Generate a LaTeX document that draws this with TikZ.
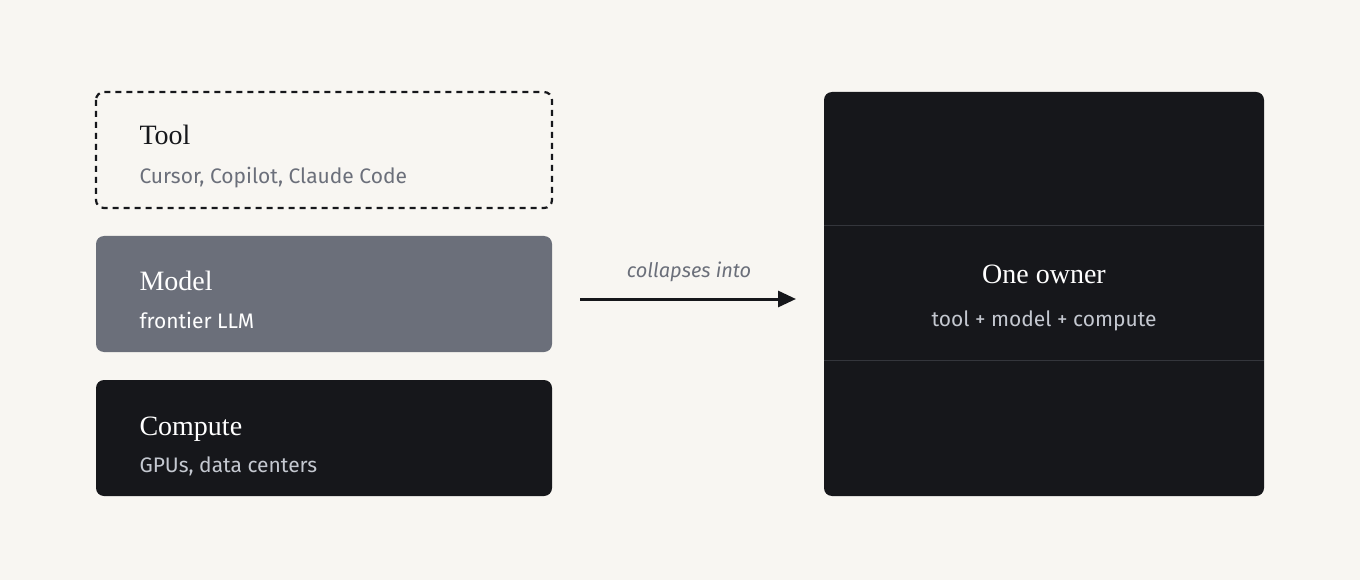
\documentclass[tikz,border=0pt]{standalone}
\usepackage{fontspec}
\setmainfont{Liberation Serif}
\newfontfamily\subf{Fira Sans}
\usetikzlibrary{arrows.meta}
\definecolor{bg}{HTML}{F8F6F2}
\definecolor{slate}{HTML}{6B6F7A}
\definecolor{ink}{HTML}{16171B}
\definecolor{sep}{HTML}{34363C}
\definecolor{lite}{HTML}{C4C8D0}
\begin{document}
\begin{tikzpicture}[x=1pt,y=-1pt,
  box/.style={rounded corners=8pt},
  ttl/.style={anchor=base west,font=\fontsize{28}{30}\selectfont},
  sub/.style={anchor=base west,font=\subf\fontsize{21}{24}\selectfont}]
\fill[bg] (0,0) rectangle (1360,580);
\useasboundingbox (0,0) rectangle (1360,580);
\draw[box,line width=2.2pt,dash pattern=on 6pt off 5pt,ink,fill=bg] (96,92) rectangle (552,208);
\fill[box,slate] (96,236) rectangle (552,352);
\fill[box,ink] (96,380) rectangle (552,496);
\fill[box,ink] (824,92) rectangle (1264,496);
\draw[sep,line width=1pt] (824,226) -- (1264,226);
\draw[sep,line width=1pt] (824,360) -- (1264,360);
\node[ttl,text=ink] (t1) at (136,145) {Tool};
\node[sub,text=slate] (s1) at (136,184) {Cursor, Copilot, Claude Code};
\node[ttl,text=white] (t2) at (136,290) {Model};
\node[sub,text=white] (s2) at (136,328) {frontier LLM};
\node[ttl,text=white] (t3) at (136,435) {Compute};
\node[sub,text=lite] (s3) at (136,472) {GPUs, data centers};
\node[anchor=base,font=\fontsize{28}{30}\selectfont,text=white] (t4) at (1044,283) {One owner};
\node[anchor=base,font=\subf\fontsize{21}{24}\selectfont,text=lite] (s4) at (1044,326) {tool + model + compute};
\coordinate (a) at (580,299);
\coordinate (b) at (796,299);
\draw[ink,line width=3pt,-{Triangle[length=18pt,width=16pt]}] (a) -- (b);
\node[anchor=base,font=\subf\itshape\fontsize{20}{22}\selectfont,text=slate] (lab) at (689,277) {collapses into};
\end{tikzpicture}
\end{document}
